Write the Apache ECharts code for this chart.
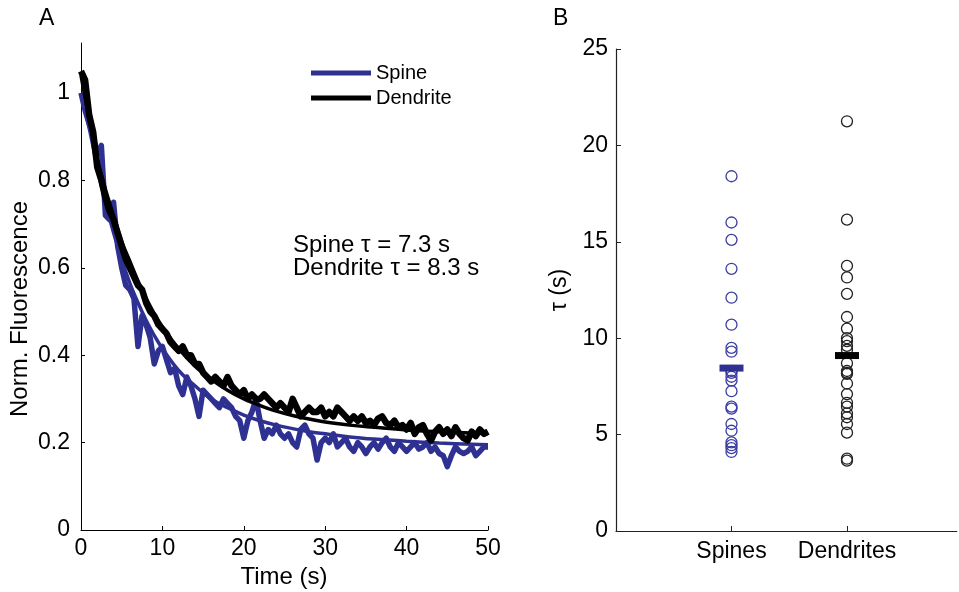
<!DOCTYPE html>
<html>
<head>
<meta charset="utf-8">
<script src="https://cdn.jsdelivr.net/npm/echarts@6/dist/echarts.min.js"></script>
<style>
html,body{margin:0;padding:0;background:#fff;}
#main{width:959px;height:592px;}
</style>
</head>
<body>
<div id="main"></div>
<script>
// panel A : fluorescence traces (time in s)
var timeSec = [0,0.5,1,1.5,2,2.5,3,3.5,4,4.5,5,5.5,6,6.5,7,7.5,8,8.5,9,9.5,10,10.5,11,11.5,12,12.5,13,13.5,14,14.5,15,15.5,16,16.5,17,17.5,18,18.5,19,19.5,20,20.5,21,21.5,22,22.5,23,23.5,24,24.5,25,25.5,26,26.5,27,27.5,28,28.5,29,29.5,30,30.5,31,31.5,32,32.5,33,33.5,34,34.5,35,35.5,36,36.5,37,37.5,38,38.5,39,39.5,40,40.5,41,41.5,42,42.5,43,43.5,44,44.5,45,45.5,46,46.5,47,47.5,48,48.5,49,49.5,50];
var spineTrace = [1.00,0.96,0.93,0.90,0.86,0.88,0.72,0.71,0.75,0.65,0.60,0.56,0.55,0.53,0.42,0.49,0.47,0.44,0.38,0.41,0.42,0.39,0.36,0.37,0.33,0.31,0.35,0.33,0.30,0.26,0.32,0.31,0.30,0.29,0.28,0.30,0.29,0.28,0.26,0.25,0.21,0.25,0.27,0.30,0.25,0.21,0.23,0.22,0.24,0.22,0.21,0.22,0.20,0.19,0.23,0.24,0.22,0.21,0.16,0.20,0.21,0.20,0.22,0.19,0.20,0.21,0.19,0.18,0.20,0.19,0.175,0.19,0.20,0.185,0.20,0.21,0.19,0.18,0.20,0.19,0.18,0.19,0.20,0.185,0.19,0.20,0.18,0.19,0.175,0.17,0.145,0.17,0.19,0.18,0.175,0.18,0.19,0.17,0.18,0.19,0.19];
var dendriteTrace = [1.05,1.03,0.95,0.91,0.83,0.80,0.76,0.73,0.71,0.68,0.65,0.62,0.60,0.58,0.56,0.55,0.52,0.50,0.49,0.47,0.46,0.45,0.43,0.42,0.41,0.42,0.40,0.40,0.38,0.38,0.36,0.35,0.34,0.35,0.34,0.33,0.35,0.33,0.32,0.31,0.32,0.30,0.31,0.30,0.30,0.31,0.30,0.29,0.28,0.29,0.28,0.27,0.30,0.28,0.26,0.27,0.28,0.27,0.27,0.28,0.26,0.27,0.26,0.28,0.27,0.26,0.25,0.26,0.25,0.26,0.245,0.25,0.24,0.255,0.26,0.245,0.24,0.25,0.235,0.24,0.23,0.245,0.22,0.235,0.24,0.22,0.205,0.225,0.235,0.22,0.23,0.215,0.235,0.22,0.21,0.205,0.225,0.215,0.23,0.22,0.225];

// exponential fits
var fitTime = [0,1,2,3,4,5,6,7,8,9,10,12,14,16,18,20,22,24,26,28,30,33,36,40,44,48,50];
var spineFit = [1.0,0.92,0.83,0.75,0.68,0.62,0.565,0.52,0.48,0.445,0.415,0.365,0.33,0.30,0.28,0.263,0.25,0.24,0.232,0.225,0.22,0.213,0.208,0.203,0.199,0.196,0.195];
var dendriteFit = [1.04,0.94,0.85,0.78,0.72,0.66,0.615,0.57,0.53,0.495,0.465,0.415,0.375,0.345,0.32,0.30,0.285,0.272,0.262,0.254,0.247,0.24,0.235,0.229,0.225,0.222,0.221];

var yTicksA = [0,0.2,0.4,0.6,0.8,1];

// panel B : decay constants tau (s)
var groups = ['Spines','Dendrites'];
var spineTau = [18.4,16.0,15.1,13.6,12.1,10.7,9.5,9.3,8.3,8.2,8.0,7.8,7.25,6.45,6.35,5.55,5.2,4.6,4.45,4.3,4.1];
var dendriteTau = [21.25,16.15,13.75,13.15,12.3,11.1,10.5,10.0,9.85,9.6,9.4,8.7,8.3,8.2,8.15,7.65,7.1,6.65,6.45,6.1,5.9,5.55,5.1,3.75,3.65];
var tauMean = [8.45,9.1];

var BLUE = '#2E3192';
var FONT = 'Liberation Sans, Arial, Helvetica, sans-serif';

function pairs(xs, ys){
	var out = [];
	for(var i=0;i<ys.length;i++) out.push([xs[i], ys[i]]);
	return out;
}
function column(x, ys){
	return ys.map(function(v){ return [x, v]; });
}

var chart = echarts.init(document.getElementById('main'), null, {renderer:'canvas'});

var labelStyle = {color:'#000', fontSize:23, fontFamily:FONT};
var option = {
	animation:false,
	backgroundColor:'#fff',
	textStyle:{fontFamily:FONT},
	grid:[
		{left:81, top:43, width:407, height:487},
		{left:616, top:49, width:340.7, height:482}
	],
	legend:{
		data:['Spine','Dendrite'],
		orient:'vertical',
		left:306, top:58,
		icon:'rect', itemWidth:60, itemHeight:5, itemGap:5,
		textStyle:{color:'#000', fontSize:20, fontFamily:FONT}
	},
	xAxis:[
		{gridIndex:0, type:'value', min:0, max:50, interval:10,
		 axisLine:{lineStyle:{color:'#000', width:1}},
		 axisTick:{inside:true, length:4, lineStyle:{color:'#000'}},
		 axisLabel:Object.assign({margin:7}, labelStyle),
		 splitLine:{show:false}},
		{gridIndex:1, type:'value', min:0, max:2.95,
		 axisLine:{lineStyle:{color:'#222', width:1.2}},
		 axisTick:{inside:true, length:5, customValues:[1,2], lineStyle:{color:'#222'}},
		 axisLabel:Object.assign({margin:9, customValues:[1,2], formatter:function(v){ return groups[Math.round(v)-1] || ''; }}, labelStyle),
		 splitLine:{show:false}}
	],
	yAxis:[
		{gridIndex:0, type:'value', min:0, max:1.1144, interval:0.2,
		 axisLine:{show:true, lineStyle:{color:'#000', width:1}},
		 axisTick:{show:true, inside:true, length:4, customValues:yTicksA, lineStyle:{color:'#000'}},
		 axisLabel:Object.assign({margin:11, customValues:yTicksA}, labelStyle),
		 splitLine:{show:false}},
		{gridIndex:1, type:'value', min:0, max:25, interval:5,
		 axisLine:{show:true, lineStyle:{color:'#222', width:1.2}},
		 axisTick:{show:true, inside:true, length:5, lineStyle:{color:'#222'}},
		 axisLabel:Object.assign({margin:8}, labelStyle),
		 splitLine:{show:false}}
	],
	series:[
		{name:'Spine', type:'line', xAxisIndex:0, yAxisIndex:0, data:pairs(timeSec, spineTrace),
		 showSymbol:false, color:BLUE, lineStyle:{color:BLUE, width:5.5, join:'round'}},
		{name:'Spine fit', type:'line', xAxisIndex:0, yAxisIndex:0, data:pairs(fitTime, spineFit),
		 showSymbol:false, smooth:0.4, lineStyle:{color:BLUE, width:3.5}},
		{name:'Dendrite', type:'line', xAxisIndex:0, yAxisIndex:0, data:pairs(timeSec, dendriteTrace),
		 showSymbol:false, color:'#000', lineStyle:{color:'#000', width:6.5, join:'round'}},
		{name:'Dendrite fit', type:'line', xAxisIndex:0, yAxisIndex:0, data:pairs(fitTime, dendriteFit),
		 showSymbol:false, smooth:0.4, lineStyle:{color:'#000', width:3.5}},
		{name:'Spines tau', type:'scatter', xAxisIndex:1, yAxisIndex:1, data:column(1, spineTau),
		 symbol:'circle', symbolSize:11,
		 itemStyle:{color:'rgba(0,0,0,0)', borderColor:'#3B3EA0', borderWidth:1.3, opacity:1}},
		{name:'Dendrites tau', type:'scatter', xAxisIndex:1, yAxisIndex:1, data:column(2, dendriteTau),
		 symbol:'circle', symbolSize:11,
		 itemStyle:{color:'rgba(0,0,0,0)', borderColor:'#222', borderWidth:1.3, opacity:1}},
		{name:'Means', type:'scatter', xAxisIndex:1, yAxisIndex:1, data:[[1, tauMean[0]],[2, tauMean[1]]],
		 symbol:'rect', symbolSize:[24,7], z:5,
		 itemStyle:{opacity:1, color:function(p){ return p.dataIndex === 0 ? BLUE : '#000'; }}}
	],
	graphic:[
		{type:'text', left:39, top:7, style:{text:'A', fontSize:23, fontFamily:FONT, fill:'#000'}},
		{type:'text', left:553, top:7, style:{text:'B', fontSize:23, fontFamily:FONT, fill:'#000'}},
		{type:'text', x:20, y:309, rotation:Math.PI/2,
		 style:{text:'Norm. Fluorescence', fontSize:24, fontFamily:FONT, fill:'#000', align:'center', verticalAlign:'middle'}},
		{type:'text', x:284, y:577,
		 style:{text:'Time (s)', fontSize:24, fontFamily:FONT, fill:'#000', align:'center', verticalAlign:'middle'}},
		{type:'text', x:560, y:290, rotation:Math.PI/2,
		 style:{text:'τ (s)', fontSize:23, fontFamily:FONT, fill:'#000', align:'center', verticalAlign:'middle'}},
		{type:'text', x:293, y:245,
		 style:{text:'Spine τ = 7.3 s', fontSize:24, fontFamily:FONT, fill:'#000', verticalAlign:'middle'}},
		{type:'text', x:293, y:268,
		 style:{text:'Dendrite τ = 8.3 s', fontSize:24, fontFamily:FONT, fill:'#000', verticalAlign:'middle'}}
	]
};
chart.setOption(option);
</script>
</body>
</html>
